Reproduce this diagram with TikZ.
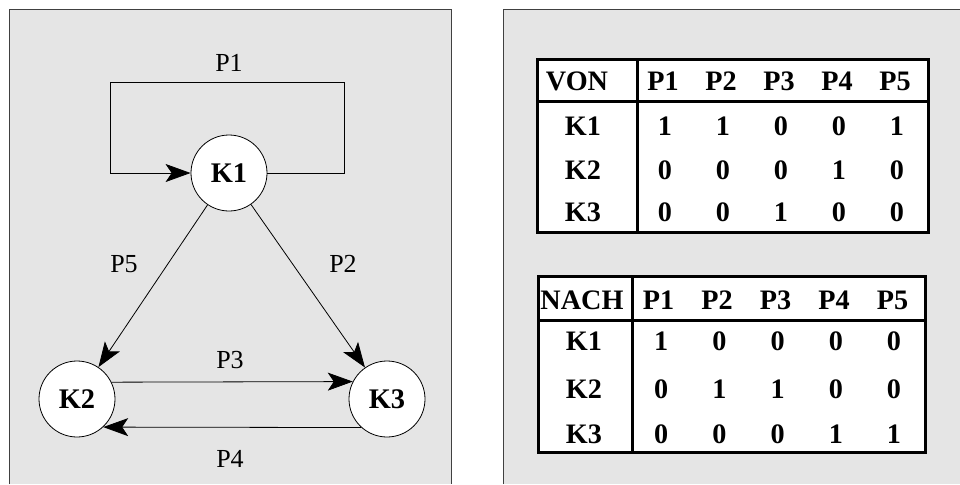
\documentclass[tikz,border=0pt]{standalone}
\usepackage{fontspec}
\setmainfont{Liberation Serif}
\usetikzlibrary{arrows.meta}

\begin{document}
\begin{tikzpicture}[x=0.5pt,y=-0.5pt,
  knoten/.style={circle,draw,fill=white,minimum size=38pt,inner sep=0pt,text height=9.4pt,text depth=0pt,font=\fontsize{14.2}{16}\selectfont\bfseries},
  pfeil/.style={-{Stealth[length=12.5pt,width=9pt,inset=3pt]}},
  plabel/.style={inner sep=0pt,text height=8.6pt,text depth=0pt,font=\fontsize{13}{15}\selectfont},
  zelle/.style={inner sep=0pt,text height=9.3pt,text depth=0pt,font=\fontsize{14.1}{17}\selectfont\bfseries},
  rahmen/.style={draw,fill=white,line width=1.5pt}]
\clip (0,0) rectangle (960,484);
\fill[white] (0,0) rectangle (960,484);
% panels
\fill[black!10] (9,9) rectangle (451,484);
\draw[black!75] (9,484) |- (451,9) -- (451,484);
\fill[black!10] (503,9) rectangle (960,484);
\draw[black!75] (503,484) |- (960,9);
% graph
\node[knoten] (k1) at (229,173) {K1};
\node[knoten] (k2) at (77,399) {K2};
\node[knoten] (k3) at (387,399) {K3};
\coordinate (loopR) at (344,82);
\coordinate (loopL) at (110,82);
\draw[pfeil] (k1.east) -| (loopR) -- (loopL) |- (k1.west);
\draw[pfeil] (k1) -- (k2);
\draw[pfeil] (k1) -- (k3);
\draw[pfeil] (k2.26.6) -- (k3.153.4);
\draw[pfeil] (k3.-132.5) -- (k2.-47.5);
\node[plabel] (lblP1) at (229,63) {P1};
\node[plabel] (lblP5) at (124,264) {P5};
\node[plabel] (lblP2) at (343,264) {P2};
\node[plabel] (lblP3) at (230,360) {P3};
\node[plabel] (lblP4) at (230,459) {P4};
% table VON
\draw[rahmen] (537,59) rectangle (928,232);
\draw[line width=1.5pt] (537,101) -- (928,101) (637,59) -- (637,232);
\node[zelle] (von) at (577,81) {VON};
\foreach \p [count=\c] in {P1,P2,P3,P4,P5}
  \node[zelle] (von-\p) at ({605+58*\c},81) {\p};
\foreach \y/\k/\w in {126/K1/{1,1,0,0,1},170/K2/{0,0,0,1,0},212/K3/{0,0,1,0,0}} {
  \node[zelle] (von-\k) at (583,\y) {\k};
  \foreach \v [count=\c] in \w
    \node[zelle] (von-\k-\c) at ({607+58*\c},\y) {\v};
}
% table NACH
\draw[rahmen] (538,276) rectangle (925,452);
\draw[line width=1.5pt] (538,320) -- (925,320) (632,276) -- (632,452);
\node[zelle] (nach) at (582,300) {NACH};
\foreach \p [count=\c] in {P1,P2,P3,P4,P5}
  \node[zelle] (nach-\p) at ({600+58.5*\c},300) {\p};
\foreach \y/\k/\w in {341/K1/{1,0,0,0,0},389/K2/{0,1,1,0,0},434/K3/{0,0,0,1,1}} {
  \node[zelle] (nach-\k) at (584,\y) {\k};
  \foreach \v [count=\c] in \w
    \node[zelle] (nach-\k-\c) at ({603+58.2*\c},\y) {\v};
}
\end{tikzpicture}
\end{document}
